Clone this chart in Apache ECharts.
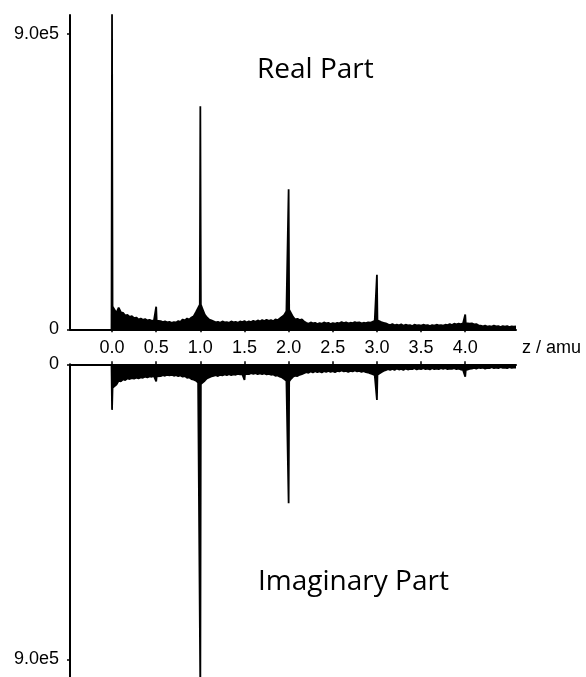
<!DOCTYPE html>
<html>
<head>
<meta charset="utf-8">
<script src="https://cdn.jsdelivr.net/npm/echarts@6/dist/echarts.min.js"></script>
<style>
html,body{margin:0;padding:0;background:#fff;}
#chart{width:586px;height:677px;}
</style>
</head>
<body>
<div id="chart"></div>
<script>
const zStep = 0.025;
const realNoise = [
 0.7,0.74,0.5,0.66,0.52,0.5,0.42,0.44,0.38,0.4,
 0.34,0.36,0.3,0.33,0.29,0.31,0.27,0.29,0.26,0.27,
 0.26,0.24,0.25,0.22,0.24,0.21,0.23,0.2,0.22,0.21,
 0.25,0.23,0.3,0.27,0.33,0.3,0.36,0.4,0.52,0.65,
 0.75,0.62,0.45,0.36,0.3,0.27,0.24,0.21,0.23,0.2,
 0.24,0.21,0.22,0.2,0.24,0.21,0.23,0.2,0.24,0.22,
 0.25,0.21,0.24,0.22,0.26,0.23,0.27,0.24,0.28,0.25,
 0.29,0.26,0.28,0.25,0.3,0.28,0.33,0.38,0.44,0.55,
 0.6,0.54,0.38,0.3,0.32,0.28,0.3,0.24,0.2,0.17,
 0.21,0.18,0.2,0.16,0.19,0.17,0.21,0.18,0.2,0.16,
 0.19,0.17,0.2,0.18,0.22,0.19,0.21,0.18,0.2,0.19,
 0.22,0.2,0.21,0.18,0.2,0.19,0.21,0.2,0.23,0.26,
 0.27,0.25,0.22,0.2,0.18,0.15,0.13,0.16,0.12,0.14,
 0.12,0.15,0.11,0.14,0.12,0.13,0.1,0.14,0.12,0.13,
 0.11,0.14,0.12,0.13,0.1,0.13,0.11,0.14,0.12,0.13,
 0.11,0.14,0.13,0.16,0.13,0.17,0.15,0.17,0.16,0.18,
 0.19,0.18,0.17,0.18,0.15,0.16,0.12,0.11,0.09,0.11,
 0.08,0.1,0.08,0.11,0.09,0.1,0.07,0.1,0.08,0.1,
 0.07,0.09,0.08,0.09
];
// Imaginary part: magnitude of the (downward) background, units of 1e5
const imagNoise = [
 0.72,0.7,0.62,0.5,0.52,0.46,0.48,0.43,0.45,0.42,
 0.44,0.41,0.43,0.4,0.41,0.38,0.4,0.37,0.38,0.36,
 0.37,0.35,0.36,0.33,0.35,0.32,0.34,0.32,0.35,0.33,
 0.36,0.34,0.38,0.36,0.41,0.4,0.45,0.47,0.5,0.56,
 0.6,0.55,0.5,0.43,0.4,0.37,0.35,0.33,0.36,0.32,
 0.34,0.31,0.33,0.3,0.33,0.31,0.32,0.29,0.31,0.3,
 0.3,0.29,0.3,0.27,0.29,0.27,0.3,0.28,0.3,0.28,
 0.31,0.29,0.32,0.31,0.35,0.34,0.38,0.4,0.45,0.5,
 0.52,0.45,0.38,0.35,0.36,0.32,0.3,0.27,0.24,0.26,
 0.22,0.25,0.21,0.24,0.22,0.25,0.21,0.23,0.2,0.23,
 0.21,0.24,0.2,0.22,0.19,0.22,0.2,0.23,0.2,0.22,
 0.19,0.22,0.2,0.23,0.21,0.24,0.25,0.28,0.3,0.33,
 0.32,0.3,0.24,0.2,0.18,0.15,0.17,0.14,0.17,0.13,
 0.16,0.14,0.17,0.13,0.16,0.14,0.15,0.12,0.16,0.13,
 0.15,0.12,0.15,0.13,0.16,0.12,0.15,0.13,0.15,0.12,
 0.14,0.12,0.15,0.13,0.14,0.12,0.15,0.13,0.16,0.17,
 0.18,0.18,0.14,0.13,0.11,0.13,0.1,0.12,0.1,0.13,
 0.11,0.12,0.09,0.12,0.1,0.12,0.09,0.11,0.1,0.12,
 0.09,0.11,0.1,0.1
];
// Sharp peaks (position in amu, height in 1e5)
const realPeakZ = [0.0, 0.5, 1.0, 2.0, 3.0, 4.0];
const realPeakH = [9.6, 0.69, 6.8, 4.27, 1.66, 0.45];
const imagPeakZ = [0.0, 0.5, 1.0, 1.5, 2.0, 3.0, 4.0];
const imagPeakH = [1.39, 0.52, 10.0, 0.48, 4.24, 1.09, 0.38];

const zTickLabels = [0.0,0.5,1.0,1.5,2.0,2.5,3.0,3.5,4.0];
const yTickLabels = [0, 9];
const panelTitles = ['Real Part', 'Imaginary Part'];
const xAxisName = 'z / amu';

const halfWidth = 0.006; // half-width of a drawn peak in amu
function buildTrace(noise, pz, ph) {
  const peakIdx = pz.map(z => Math.round(z / zStep));
  const pts = [];
  noise.forEach((v, i) => {
    if (peakIdx.indexOf(i) < 0) pts.push([+(i * zStep).toFixed(4), v]);
  });
  pz.forEach((z, k) => {
    const base = noise[peakIdx[k]];
    pts.push([z - halfWidth, peakIdx[k] === 0 ? 0 : base]);
    pts.push([z, ph[k]]);
    pts.push([z + halfWidth, base]);
  });
  pts.sort((a, b) => a[0] - b[0]);
  return pts;
}
const realData = buildTrace(realNoise, realPeakZ, realPeakH);
const imagData = buildTrace(imagNoise, imagPeakZ, imagPeakH);

const numFont = '"Liberation Sans", Arial, sans-serif';
const yFmt = v => v === 0 ? '0' : v.toFixed(1) + 'e5';
const xMin = -0.476, xMax = 4.575;

const chart = echarts.init(document.getElementById('chart'), null, {renderer: 'canvas'});
const axisLineStyle = {color: '#000', width: 2};
chart.setOption({
  animation: false,
  backgroundColor: '#fff',
  grid: [
    {left: 70, top: 15, width: 446, height: 314.3},
    {left: 70, top: 364.3, width: 446, height: 312.7}
  ],
  xAxis: [
    {gridIndex: 0, type: 'value', min: xMin, max: xMax, position: 'bottom',
     axisLine: {show: true, onZero: false, lineStyle: axisLineStyle},
     axisTick: {show: true, length: 3, inside: false, customValues: zTickLabels, lineStyle: {color: '#000', width: 1.5}},
     axisLabel: {show: true, customValues: zTickLabels, formatter: v => v.toFixed(1), fontSize: 18, fontFamily: numFont, color: '#000', margin: 10, lineHeight: 18},
     splitLine: {show: false}},
    {gridIndex: 1, type: 'value', min: xMin, max: xMax, position: 'top',
     axisLine: {show: true, onZero: false, lineStyle: axisLineStyle},
     axisTick: {show: true, length: 3, inside: false, customValues: zTickLabels, lineStyle: {color: '#000', width: 1.5}},
     axisLabel: {show: false},
     splitLine: {show: false}}
  ],
  yAxis: [
    {gridIndex: 0, type: 'value', min: 0, max: 9.58,
     axisLine: {show: true, onZero: false, lineStyle: axisLineStyle},
     axisTick: {show: true, length: 3, customValues: yTickLabels, lineStyle: {color: '#000', width: 1.5}},
     axisLabel: {show: true, customValues: yTickLabels, formatter: yFmt, fontSize: 18, fontFamily: numFont, color: '#000', margin: 11},
     splitLine: {show: false}},
    {gridIndex: 1, type: 'value', min: 0, max: 9.54, inverse: true,
     axisLine: {show: true, onZero: false, lineStyle: axisLineStyle},
     axisTick: {show: true, length: 3, customValues: yTickLabels, lineStyle: {color: '#000', width: 1.5}},
     axisLabel: {show: true, customValues: yTickLabels, formatter: yFmt, fontSize: 18, fontFamily: numFont, color: '#000', margin: 11},
     splitLine: {show: false}}
  ],
  series: [
    {name: panelTitles[0], type: 'line', xAxisIndex: 0, yAxisIndex: 0, data: realData,
     showSymbol: false, clip: true, lineStyle: {color: '#000', width: 1.8},
     areaStyle: {color: '#000', opacity: 1}},
    {name: panelTitles[1], type: 'line', xAxisIndex: 1, yAxisIndex: 1, data: imagData,
     showSymbol: false, clip: true, lineStyle: {color: '#000', width: 1.8},
     areaStyle: {color: '#000', opacity: 1}}
  ],
  graphic: [
    {type: 'text', left: 257, top: 56, style: {text: panelTitles[0], font: '28px "Open Sans", sans-serif', fill: '#000'}},
    {type: 'text', left: 258, top: 568, style: {text: panelTitles[1], font: '28px "Open Sans", sans-serif', fill: '#000'}},
    {type: 'text', left: 522, top: 339, style: {text: xAxisName, font: '18px "Liberation Sans", Arial, sans-serif', fill: '#000'}}
  ]
});
</script>
</body>
</html>
